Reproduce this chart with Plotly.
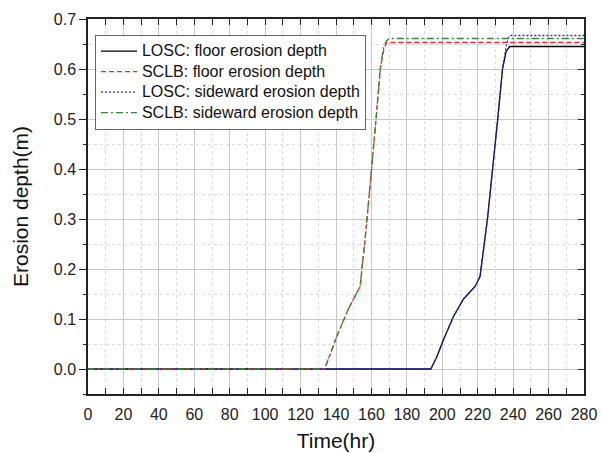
import plotly.graph_objects as go

# LOSC floor erosion depth (black solid)
losc_floor_t = [0, 193.5, 197, 200.6, 206.3, 212, 218.5, 221.3, 225.5, 228.5, 231.3, 234, 236, 238, 280]
losc_floor_d = [0, 0, 0.025, 0.058, 0.105, 0.14, 0.165, 0.185, 0.30, 0.40, 0.50, 0.60, 0.635, 0.645, 0.645]

# LOSC sideward erosion depth (blue dotted)
losc_side_t = [0, 193.5, 197, 200.6, 206.3, 212, 218.5, 221.3, 225.5, 228.5, 231.3, 234, 236, 237.5, 238.5, 280]
losc_side_d = [0, 0, 0.025, 0.058, 0.105, 0.14, 0.165, 0.185, 0.30, 0.40, 0.50, 0.60, 0.645, 0.664, 0.667, 0.667]

# SCLB floor erosion depth (red dashed)
sclb_floor_t = [0, 133.5, 137, 140.4, 147, 153.6, 157, 160.2, 162.6, 165, 166.8, 168.5, 280]
sclb_floor_d = [0, 0, 0.032, 0.065, 0.12, 0.165, 0.28, 0.398, 0.50, 0.60, 0.636, 0.653, 0.653]

# SCLB sideward erosion depth (green dash-dot)
sclb_side_t = [0, 133.5, 137, 140.4, 147, 153.6, 157, 160.2, 162.6, 165, 166.8, 168.5, 170, 280]
sclb_side_d = [0, 0, 0.032, 0.065, 0.12, 0.165, 0.28, 0.398, 0.50, 0.60, 0.642, 0.656, 0.661, 0.661]

series_names = ["LOSC: floor erosion depth", "SCLB: floor erosion depth",
                "LOSC: sideward erosion depth", "SCLB: sideward erosion depth"]

x_ticks = list(range(0, 281, 20))
y_ticks = [0.0, 0.1, 0.2, 0.3, 0.4, 0.5, 0.6, 0.7]


def lg(name):
    return '<span style="font-size:16px">' + name + '</span>'


fig = go.Figure()
fig.add_trace(go.Scatter(x=losc_floor_t, y=losc_floor_d, mode="lines",
                         name=lg(series_names[0]),
                         line=dict(color="black", width=1.3, dash="solid")))
fig.add_trace(go.Scatter(x=sclb_floor_t, y=sclb_floor_d, mode="lines",
                         name=lg(series_names[1]),
                         line=dict(color="#ff2020", width=1.3, dash="5px,3px")))
fig.add_trace(go.Scatter(x=losc_side_t, y=losc_side_d, mode="lines",
                         name=lg(series_names[2]),
                         line=dict(color="#2b2bd6", width=1.3, dash="2px,2px")))
fig.add_trace(go.Scatter(x=sclb_side_t, y=sclb_side_d, mode="lines",
                         name=lg(series_names[3]),
                         line=dict(color="#2e8b2e", width=1.3, dash="7px,3px,2px,3px")))
# invisible helper trace for right-side tick axis
fig.add_trace(go.Scatter(x=[0], y=[0], yaxis="y2", mode="lines", showlegend=False,
                         hoverinfo="skip", line=dict(color="rgba(0,0,0,0)")))

font = "Arial, Liberation Sans, sans-serif"
fig.update_layout(
    width=602, height=453,
    margin=dict(l=88, r=18, t=19, b=59, autoexpand=False),
    paper_bgcolor="white", plot_bgcolor="white",
    font=dict(family=font, size=16, color="#222"),
    showlegend=True,
    legend=dict(x=0.014, y=0.958, xanchor="left", yanchor="top",
                bgcolor="white", bordercolor="#666", borderwidth=1,
                font=dict(size=13.5, color="#111"), tracegroupgap=0,
                itemwidth=36),
    xaxis=dict(range=[0, 280], tickvals=x_ticks, ticks="inside", ticklen=6,
               tickcolor="#222", tickwidth=1.2, automargin=False,
               showline=True, linecolor="#222", linewidth=1.5, mirror="allticks",
               showgrid=True, gridcolor="#c8c8c8", gridwidth=1, zeroline=False,
               ticklabelstandoff=5,
               minor=dict(dtick=10, tick0=0, ticks="inside", ticklen=3, tickcolor="#222",
                          showgrid=True, gridcolor="#dcdcdc", griddash="dot"),
               title=dict(text="Time(hr)", font=dict(size=21, color="#111"), standoff=11)),
    yaxis=dict(range=[-0.05, 0.7], tickvals=y_ticks, tickformat=".1f",
               ticks="outside", ticklen=7, tickcolor="#222", tickwidth=1.2, automargin=False,
               showline=True, linecolor="#222", linewidth=1.5, mirror=True,
               showgrid=True, gridcolor="#c8c8c8", gridwidth=1, zeroline=False,
               minor=dict(dtick=0.05, tick0=0, ticks="outside", ticklen=3, tickcolor="#222",
                          showgrid=True, gridcolor="#dcdcdc", griddash="dot"),
               title=dict(text="Erosion depth(m)", font=dict(size=21, color="#111"), standoff=19)),
    yaxis2=dict(range=[-0.05, 0.7], overlaying="y", side="right", anchor="x",
                tickvals=y_ticks, ticks="inside", ticklen=6, tickcolor="#222", tickwidth=1.2,
                showticklabels=False, showgrid=False, zeroline=False, showline=False,
                automargin=False,
                minor=dict(dtick=0.05, tick0=0, ticks="inside", ticklen=3, tickcolor="#222",
                           showgrid=False)),
)

fig.write_html("out.html", config={"displayModeBar": False},
               post_script="document.body.style.margin='0';document.body.style.overflow='hidden';")
